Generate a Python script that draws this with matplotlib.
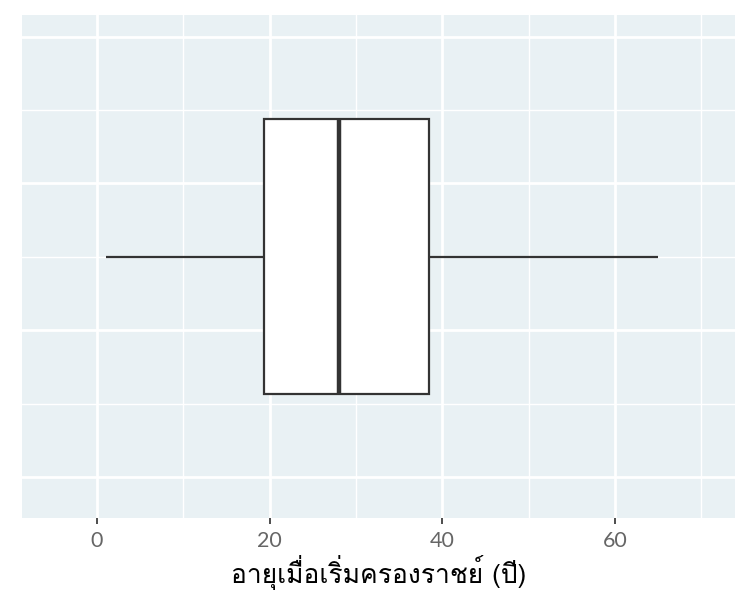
import matplotlib
matplotlib.use("Agg")
import matplotlib.pyplot as plt
from matplotlib.ticker import FixedLocator

# box summary (age at accession, years)
whisker_low = 1
q1 = 19.3
median = 28
q3 = 38.5
whisker_high = 65

x_ticks = [0, 20, 40, 60]
x_minor = [10, 30, 50, 70]
y_major = [-0.6, -0.2, 0.2, 0.6]
y_minor = [-0.4, 0.0, 0.4]
xlabel = "อายุเมื่อเริ่มครองราชย์ (ปี)"

panel_bg = "#E9F1F4"
line_col = "#333333"

fig = plt.figure(figsize=(7.5, 6), dpi=100)
ax = fig.add_axes([22 / 750, 1 - 518 / 600, (735 - 22) / 750, (518 - 15) / 600])
ax.set_facecolor(panel_bg)

stats = [{"whislo": whisker_low, "q1": q1, "med": median, "q3": q3,
          "whishi": whisker_high, "fliers": []}]
ax.bxp(stats, positions=[0], widths=0.75, vert=False, patch_artist=True,
       showcaps=False, showfliers=False,
       boxprops=dict(facecolor="white", edgecolor=line_col, linewidth=1.6),
       medianprops=dict(color=line_col, linewidth=3.2, solid_capstyle="butt"),
       whiskerprops=dict(color=line_col, linewidth=1.6, solid_capstyle="butt"),
       zorder=3)

ax.set_xlim(-8.69, 73.9)
ax.set_ylim(-0.712, 0.659)

ax.xaxis.set_major_locator(FixedLocator(x_ticks))
ax.xaxis.set_minor_locator(FixedLocator(x_minor))
ax.yaxis.set_major_locator(FixedLocator(y_major))
ax.yaxis.set_minor_locator(FixedLocator(y_minor))
ax.set_xticklabels([str(t) for t in x_ticks])

ax.grid(which="major", color="white", linewidth=2.0, zorder=0)
ax.grid(which="minor", color="white", linewidth=1.0, zorder=0)
ax.set_axisbelow(True)

for s in ax.spines.values():
    s.set_visible(False)

ax.tick_params(axis="x", which="major", length=4, width=1.4, color="#4D4D4D",
               labelsize=15.5, labelcolor="#666666", pad=5.5)
ax.tick_params(axis="x", which="minor", length=0)
ax.tick_params(axis="y", which="both", length=0, labelleft=False)
for lab in ax.get_xticklabels():
    lab.set_family(["Lato", "DejaVu Sans"])

# Loma keeps the Thai tone marks above the vowels without text shaping
ax.set_xlabel(xlabel, fontsize=19, color="black",
              family=["Loma", "Lato", "DejaVu Sans"],
              labelpad=3)

fig.savefig("out.png", dpi=100, facecolor="white")
